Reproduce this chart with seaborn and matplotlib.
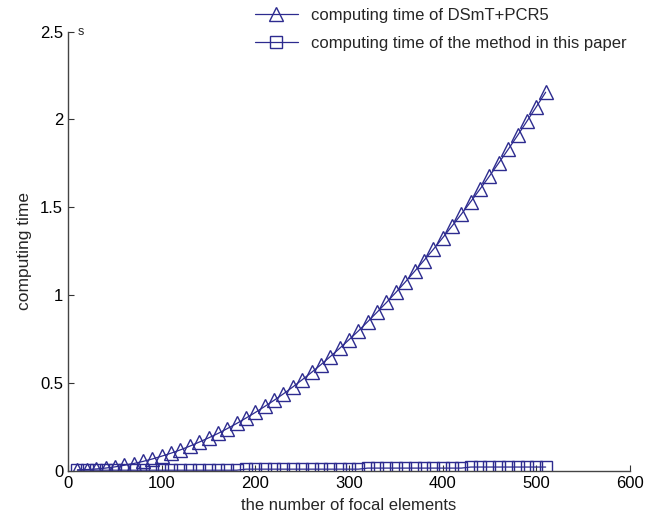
import numpy as np
import pandas as pd
import seaborn as sns
import matplotlib
matplotlib.use("Agg")
from matplotlib import pyplot as plt

# data
n_focal = [10, 20, 30, 40, 50, 60, 70, 80, 90, 100,
           110, 120, 130, 140, 150, 160, 170, 180, 190, 200,
           210, 220, 230, 240, 250, 260, 270, 280, 290, 300,
           310, 320, 330, 340, 350, 360, 370, 380, 390, 400,
           410, 420, 430, 440, 450, 460, 470, 480, 490, 500, 510]
time_dsmt = [0.005, 0.007, 0.010, 0.015, 0.022, 0.031, 0.041, 0.053, 0.067, 0.083,
             0.100, 0.119, 0.140, 0.163, 0.187, 0.212, 0.240, 0.269, 0.300, 0.332,
             0.366, 0.401, 0.438, 0.477, 0.518, 0.560, 0.604, 0.650, 0.697, 0.746,
             0.796, 0.849, 0.903, 0.958, 1.015, 1.074, 1.135, 1.197, 1.260, 1.326,
             1.393, 1.461, 1.532, 1.604, 1.678, 1.753, 1.830, 1.909, 1.990, 2.072, 2.155]
time_ours = [0.003] * 18 + [0.009] * 13 + [0.015] * 11 + [0.021] * 9

series_names = ["computing time of DSmT+PCR5",
                "computing time of the method in this paper"]

df = pd.DataFrame({
    "n": n_focal * 2,
    "t": time_dsmt + time_ours,
    "series": [series_names[0]] * len(n_focal) + [series_names[1]] * len(n_focal),
})

sns.set_style("white")
plt.rcParams['font.family'] = ['Liberation Sans', 'DejaVu Sans']

navy = "#2d2b8f"
fig = plt.figure(figsize=(6.61, 5.19), dpi=100)
ax = fig.add_axes([0.103, 0.093, 0.850, 0.846])

sns.lineplot(data=df[df.series == series_names[0]], x="n", y="t", ax=ax,
             color=navy, marker="^", markersize=10, markerfacecolor="none",
             markeredgecolor=navy, markeredgewidth=1.0, linewidth=0.9,
             label=series_names[0])
sns.lineplot(data=df[df.series == series_names[1]], x="n", y="t", ax=ax,
             color=navy, marker="s", markersize=9, markerfacecolor="none",
             markeredgecolor=navy, markeredgewidth=1.0, linewidth=0.9,
             label=series_names[1])

ax.set_xlim(0, 600)
ax.set_ylim(0, 2.5)
ax.set_xticks([0, 100, 200, 300, 400, 500, 600])
ax.set_yticks([0, 0.5, 1, 1.5, 2, 2.5])
ax.set_yticklabels(["0", "0.5", "1", "1.5", "2", "2.5"])
ax.tick_params(direction="in", length=4, width=0.8, labelsize=12, colors="#333333",
               labelcolor="black", bottom=True, left=True)
for side in ["top", "right"]:
    ax.spines[side].set_visible(False)
for side in ["left", "bottom"]:
    ax.spines[side].set_color("#444444")
    ax.spines[side].set_linewidth(1.0)

ax.set_xlabel("the number of focal elements", fontsize=12, labelpad=5)
ax.set_ylabel("computing time", fontsize=12.5, labelpad=6)
ax.text(10, 2.5, "s", fontsize=9, va="center", ha="left")

ax.legend(loc="upper left", bbox_to_anchor=(0.375, 0.997), bbox_transform=fig.transFigure,
          frameon=False, fontsize=12, handlelength=2.6, handletextpad=0.8,
          labelspacing=0.75, borderaxespad=0)

fig.savefig("out.png", dpi=100)
